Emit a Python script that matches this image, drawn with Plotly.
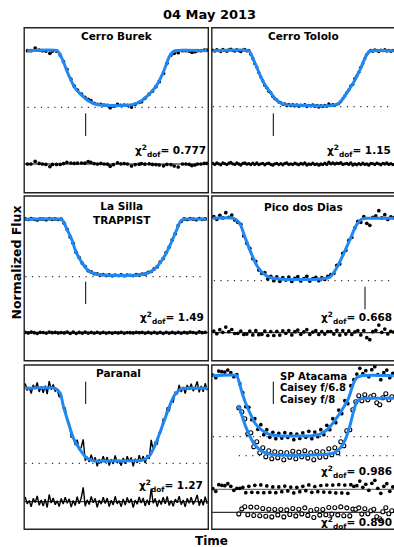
import plotly.graph_objects as go

# Figure fills the whole window; the page's default body margin is removed after plotting.
W, H = 394, 547
PAGE_OFF = 0

# ---------------- DATA (time in minutes from panel start, flux in ppt relative to baseline)
# Cerro Burek
burek_t = [3.3, 6.7, 11, 15, 18.3, 21.7, 25.7, 28.3, 32.3, 36,
           39.3, 42.7, 46.7, 50, 53.3, 57.3, 60.7, 64, 66.7, 70,
           73.3, 76.7, 80, 83.3, 86, 89.3, 93.3, 96.7, 100, 103.3,
           107.3, 111, 115, 117.3, 120.7, 125, 128.3, 131.7, 135, 139.3,
           142.7, 146.7, 150, 154, 158.3, 161.7, 165, 167.7, 170.7, 173.3,
           176.7, 180, 182.7]
burek_f = [0, 0, 1.3, 0.3, 0, -0.2, -1.3, -0.2, -0.2, -2.2,
           -5.5, -9.3, -14.2, -17.7, -19.7, -21.7, -23.3, -24.3, -25, -26.3,
           -26.8, -26.8, -27.2, -27.3, -28.5, -27.7, -26.8, -27.3, -27.2, -27.3,
           -28.2, -26.8, -25.8, -25.5, -23.8, -21.7, -20.2, -18, -15.5, -11.3,
           -6.3, -2.2, -1.3, -1, 0, 0, -0.2, -0.8, -0.5, 0,
           0, 0.3, 0.3]
burek_r = [0, 0, 1.3, 0.3, 0, -0.2, -1.3, -0.2, -0.2, -0.2,
           0.2, 0.8, 0.5, 0.3, 0.4, 0.5, 0.4, 1.2, 0.8, 0.2,
           0, 0.3, 0, -0.1, -1.1, -0.3, 0.6, 0.1, 0.2, 0,
           -1, -0.3, -0.1, 0.2, -0.1, 0.1, -0.2, -0.3, -0.5, -0.9,
           -0.2, -0.3, -1.0, -1.5, 0, 0, -0.2, -0.8, -0.5, 0,
           0, 0.3, 0.3]
burek_mt = [3, 33, 36, 40, 43, 47, 50, 54, 58, 62, 66, 70, 76, 85, 100, 106, 110, 115,
            120, 125, 130, 134, 138, 142, 145, 148, 151, 183]
burek_mf = [0, 0, -2, -6.5, -10.5, -15, -18, -20.5, -22.5, -24.3, -25.6, -26.5, -27.1, -27.4,
            -27.4, -27.2, -26.7, -25.7, -24, -21.8, -19, -16, -12, -7, -3, -0.8, 0, 0]

# Cerro Tololo
tololo_t = [1, 3, 5, 7, 9, 11, 13, 15, 17, 19,
            21, 23, 25, 27, 29, 31, 33, 35, 37, 39,
            41, 43, 45, 47, 49, 51, 53, 55, 57, 59,
            61, 63, 65, 67, 69, 71, 73, 75, 77, 79,
            81, 83, 85, 87, 89, 91, 93, 95, 97, 99,
            101, 103, 105, 107, 109, 111, 113, 115, 117, 119,
            121, 123, 125, 127, 129, 131, 133, 135, 137, 139,
            141, 143, 145, 147, 149, 151, 153, 155, 157, 159,
            161, 163, 165, 167, 169, 171, 173, 175, 177, 179,
            181]
tololo_f = [0.3, -0.2, 0.5, 0.1, -0.4, 0.6, 0.2, -0.3, 0.4, 0.8,
            0.1, -0.2, 0.5, 0.0, -0.5, 0.3, 0.6, -0.1, 0.2, -1.8,
            -3.9, -6.5, -8.1, -11.0, -13.2, -15.0, -17.4, -18.6, -20.3, -21.0,
            -22.9, -24.0, -24.6, -25.7, -26.0, -26.8, -26.6, -27.4, -26.9, -27.5,
            -27.0, -27.6, -27.1, -27.8, -27.2, -27.5, -27.0, -27.9, -27.3, -27.6,
            -27.1, -27.8, -27.4, -28.2, -27.5, -27.9, -27.3, -27.8, -26.6, -27.4,
            -27.0, -27.3, -26.8, -26.4, -25.4, -24.0, -22.6, -21.0, -19.6, -17.6,
            -16.8, -14.0, -12.6, -10.8, -8.3, -6.4, -4.0, -1.8, -0.6, 0.2,
            -0.3, 0.4, 0.1, -0.4, 0.3, 0.0, 0.5, -0.2, 0.2, -0.3,
            0.1]
tololo_r = [0.3, -0.2, 0.5, 0.1, -0.4, 0.6, 0.2, -0.3, 0.4, 0.8,
            0.1, -0.2, 0.5, 0.0, -0.5, 0.3, 0.6, -0.1, 0.2, -0.3,
            0.4, -0.2, 0.5, -0.3, 0.1, 0.3, -0.4, 0.2, 0.4, -0.2,
            -0.6, 0.1, 0.3, -0.3, 0.2, -0.4, 0.3, 0.5, -0.2, 0.1,
            -0.3, 0.4, 0.0, -0.4, 0.3, -0.1, 0.5, -0.5, 0.0, -0.2,
            0.4, -0.3, 0.1, -0.6, 0.0, -0.3, 0.4, -0.2, 0.9, 0.1,
            0.5, 0.0, 0.4, 0.2, 0.7, -0.2, 0.1, 0.3, -0.2, 0.6,
            -0.5, 0.0, -0.4, 0.2, -0.3, 0.4, -0.2, 0.1, -0.6, 0.3,
            0.2, -0.3, 0.4, 0.1, -0.4, 0.3, 0.0, 0.5, -0.2, 0.2,
            -0.3]
tololo_mt = [1, 37, 39, 44.7, 51.3, 58, 64.7, 71.3, 80, 100,
             115, 124.7, 128, 134.7, 141.3, 148, 154.7, 158, 162, 182]
tololo_mf = [0, 0, -1.5, -8, -15.5, -20.5, -24.7, -26.7, -27.2, -27.5,
             -27.6, -27, -26, -21.3, -16.3, -9.7, -2.2, -0.3, 0, 0]

# La Silla TRAPPIST
lasilla_t = [1, 4, 7, 10, 13, 16, 19, 22, 25, 28,
             31, 34, 37, 40, 43, 46, 49, 52, 55, 58,
             61, 64, 67, 70, 73, 76, 79, 82, 85, 88,
             91, 94, 97, 100, 103, 106, 109, 112, 115, 118,
             121, 124, 127, 130, 133, 136, 139, 142, 145, 148,
             151, 154, 157, 160, 163, 166, 169, 172, 175, 178,
             181]
lasilla_f = [0.2, -0.1, 0.3, 0.0, -0.3, 0.2, 0.1, -0.2, 0.3, 0.0,
             0.2, -0.1, 0.1, -2.0, -5.1, -8.8, -12.0, -16.6, -19.1, -21.9,
             -23.6, -25.7, -26.3, -27.2, -27.3, -27.9, -27.6, -28.1, -27.8, -28.2,
             -27.9, -28.1, -27.8, -28.2, -27.9, -28.0, -28.1, -27.7, -27.9, -27.4,
             -27.4, -26.5, -26.1, -24.8, -23.7, -21.4, -19.6, -16.6, -13.9, -10.3,
             -7.2, -3.1, -1.0, 0.2, -0.1, 0.3, 0.1, -0.2, 0.4, 0.0,
             0.2]
lasilla_r = [0.2, -0.1, 0.3, 0.0, -0.3, 0.2, 0.1, -0.2, 0.3, 0.0,
             0.2, -0.1, 0.1, -0.1, 0.3, -0.3, 0.3, -0.3, 0.2, -0.2,
             0.3, -0.2, 0.2, -0.2, 0.2, -0.2, 0.2, -0.2, 0.1, -0.2,
             0.1, -0.1, 0.2, -0.2, 0.1, 0.0, -0.1, 0.2, 0.0, 0.2,
             -0.2, 0.2, -0.2, 0.2, -0.2, 0.2, -0.3, 0.2, -0.2, 0.2,
             -0.2, 0.2, -0.2, 0.2, -0.1, 0.3, 0.1, -0.2, 0.4, 0.0,
             0.2]
lasilla_mt = [1, 37, 39.3, 42.7, 47.7, 51, 54.3, 59.3, 63.3, 67.7,
              74, 85, 110, 118, 122.7, 129.3, 134.3, 141, 146.7, 152.7,
              156, 159, 182]
lasilla_mf = [0, 0, -1.2, -5, -10.3, -15.3, -18.7, -22.8, -25.3, -26.7,
              -27.6, -28, -28, -27.6, -27, -25.3, -22.8, -17.8, -12, -5,
              -1.2, 0, 0]

# Pico dos Dias
pico_t = [2, 5, 8, 11, 14, 17, 20, 23, 26, 29,
          32, 35, 38, 41, 44, 47, 50, 53, 56, 59,
          62, 65, 68, 71, 74, 77, 80, 83, 86, 89,
          92, 95, 98, 101, 104, 107, 110, 113, 116, 119,
          122, 125, 128, 131, 134, 137, 140, 143, 146, 149,
          152, 155, 158, 161, 164, 167, 170, 173, 176, 179,
          182]
pico_f = [0.8, -0.5, 1.5, 0.2, 2.8, 0.5, 1.6, -0.8, -2.0, -3.0,
          -8.8, -12.5, -15.0, -20.2, -21.5, -25.8, -27.5, -27.2, -30.3, -29.0,
          -31.2, -29.3, -31.5, -29.6, -30.8, -29.4, -31.6, -30.0, -29.2, -31.3,
          -30.1, -29.0, -31.4, -30.2, -29.5, -31.2, -29.6, -30.6, -29.0, -28.2,
          -27.5, -23.5, -22.8, -17.5, -16.0, -11.0, -9.5, -4.8, -1.5, -2.0,
          0.8, -2.5, -3.5, 0.5, 1.2, 3.8, 0.2, 1.8, -0.6, 0.7,
          0.3]
pico_r = [0.8, -0.5, 1.5, 0.2, 2.8, 0.5, 1.6, -0.4, -0.3, 0.8,
          -0.9, -0.7, 0.8, -1.1, 1.0, -1.0, -0.8, 0.8, -1.4, 0.6,
          -1.4, 0.7, -1.2, 0.9, -0.3, 1.1, -1.1, 0.5, 1.3, -0.8,
          0.4, 1.5, -0.9, 0.3, 1.0, -0.9, 0.5, -0.7, 0.6, 0.6,
          -0.7, 1.2, -1.2, 1.1, -0.7, 0.9, -0.9, 0.4, 1.1, -1.1,
          1.1, -2.5, -3.5, 0.5, 1.2, 3.8, 0.2, 1.8, -0.6, 0.7,
          0.3]
pico_mt = [1, 22, 28, 33, 38, 44.7, 51.3, 58, 71.3, 104.7,
           118, 124.7, 131.3, 138, 144.7, 149.7, 154.7, 182]
pico_mf = [0, 0, -2.5, -9.2, -15.8, -23.3, -27.5, -29.5, -30.5, -30.5,
           -29.5, -25, -18.3, -10.8, -3.3, -0.5, 0, 0]

# Paranal
paranal_t = [1, 3, 5, 7, 9, 11, 13, 15, 17, 19,
             21, 23, 25, 27, 29, 31, 33, 35, 37, 39,
             41, 43, 45, 47, 49, 51, 53, 55, 57, 59,
             61, 63, 65, 67, 69, 71, 73, 75, 77, 79,
             81, 83, 85, 87, 89, 91, 93, 95, 97, 99,
             101, 103, 105, 107, 109, 111, 113, 115, 117, 119,
             121, 123, 125, 127, 129, 131, 133, 135, 137, 139,
             141, 143, 145, 147, 149, 151, 153, 155, 157, 159,
             161, 163, 165, 167, 169, 171, 173, 175, 177, 179,
             181, 183]
paranal_f = [2.4, -1.1, 0.6, -2.6, 1.7, -0.4, 2.9, -1.8, 0.9, -2.2,
             1.3, -2.9, 3.6, -0.7, 1.9, -1.5, -0.6, -4.4, -2.9, -9.8,
             -9.8, -16.1, -17.2, -24.3, -23.9, -28.4, -25.7, -30.9, -29.6, -25.5,
             -36.2, -34.2, -36.8, -33.2, -36.6, -34.5, -39.0, -35.4, -37.4, -33.9,
             -37.1, -34.4, -38.6, -35.5, -37.8, -33.5, -37.4, -35.8, -38.7, -34.8,
             -37.8, -34.0, -36.7, -34.6, -39.0, -35.2, -37.3, -33.5, -36.6, -33.9,
             -37.4, -33.4, -35.3, -25.8, -31.1, -26.7, -28.2, -22.1, -21.7, -15.4,
             -15.8, -9.5, -11.5, -6.5, -6.9, -2.0, -2.7, 1.7, -1.9, 0.7,
             -2.6, 1.7, -0.8, 2.3, -1.4, 0.5, 3.4, -2.0, 1.2, -1.8,
             2.5, -1.0]
paranal_r = [2.4, -1.1, 0.6, -2.6, 1.7, -0.4, 2.9, -1.8, 0.9, -2.2,
             1.3, -2.9, 3.6, -0.7, 1.9, -1.5, 0.4, -2.4, 1.6, -1.2,
             2.2, -0.8, 1.4, -2.7, 0.6, -1.9, 2.5, -1.0, 1.8, 7.2,
             -2.3, 0.9, -1.4, 2.6, -0.5, 1.7, -2.8, 0.8, -1.2, 2.3,
             -0.9, 1.8, -2.4, 0.7, -1.6, 2.7, -1.1, 0.5, -2.5, 1.4,
             -1.7, 2.1, -0.6, 1.5, -2.9, 0.8, -1.3, 2.4, -0.7, 1.9,
             -2.2, 1.0, -1.6, 6.5, -0.8, 1.6, -2.5, 0.9, -1.4, 2.2,
             -1.0, 2.6, -1.9, 0.6, -2.3, 1.3, -0.5, 2.8, -1.5, 0.9,
             -2.6, 1.7, -0.8, 2.3, -1.4, 0.5, 3.4, -2.0, 1.2, -1.8,
             2.5, -1.0]
paranal_mt = [1, 31, 36, 39.3, 44.3, 49.3, 56, 62.7, 69.3, 92.7,
              119.3, 126, 131, 136, 142.7, 149.3, 156, 161, 183]
paranal_mf = [0, 0, -2.5, -9.2, -17.5, -25, -30.8, -35, -36.2, -36.3,
              -35.8, -33.3, -28.3, -21.7, -12.5, -4.2, -0.5, 0, 0]

# SP Atacama, Caisey f/6.8 (A) and Caisey f/8 (B, shifted down)
ata_a_t = [1, 4, 7, 10, 13, 16, 19, 22, 25, 28,
           31, 34, 37, 40, 43, 46, 49, 52, 55, 58,
           61, 64, 67, 70, 73, 76, 79, 82, 85, 88,
           91, 94, 97, 100, 103, 106, 109, 112, 115, 118,
           121, 124, 127, 130, 133, 136, 139, 142, 145, 148,
           151, 154, 157, 160, 163, 166, 169, 172, 175, 178,
           181]
ata_a_f = [0.3, -1.0, 2.3, 2.0, 1.8, 2.8, 1.5, -0.5, 0.5, -4.0,
           -8.5, -15.5, -15.8, -22.0, -21.5, -26.8, -24.5, -29.5, -27.0, -30.8,
           -28.3, -31.5, -28.8, -31.2, -28.5, -30.9, -29.0, -32.0, -29.2, -31.4,
           -28.6, -30.8, -27.8, -31.5, -28.2, -30.5, -27.0, -29.5, -24.8, -27.0,
           -21.5, -23.5, -17.2, -19.0, -12.5, -14.0, -5.0, -2.0, 0.8, 3.7,
           1.0, 2.5, -0.5, 3.0, 4.5, 0.5, -2.0, 1.5, 2.8, -1.0,
           1.2]
ata_a_r = [0.3, -1.0, 2.3, 2.0, 1.8, 2.8, 1.5, -0.5, 0.5, 0.5,
           1.0, -1.7, 1.5, -1.5, 2.0, -1.6, 2.2, -1.7, 1.7, -1.5,
           1.2, -1.7, 1.2, -1.2, 1.6, -0.8, 1.1, -1.8, 1.0, -1.2,
           1.5, -0.7, 2.2, -1.5, 1.4, -1.2, 1.9, -1.4, 2.1, -1.5,
           2.1, -1.8, 2.3, -1.8, 2.1, -2.0, 2.3, 1.5, 1.8, 4.1,
           1.0, 2.5, -0.5, 3.0, 4.5, 0.5, -2.0, 1.5, 2.8, -1.0,
           1.2]
ata_a_mt = [1, 25, 26.7, 30, 33.3, 38.3, 43.3, 50, 56.7, 66.7,
            86.7, 100, 110, 116.7, 123.3, 130, 136.7, 141.7, 145, 150,
            182]
ata_a_mf = [0, 0, -2.2, -8, -13, -18.8, -23.8, -27.2, -29.2, -30,
            -30.2, -30, -28.8, -26.3, -22.2, -17.2, -11.3, -3.8, -1, 0,
            0]
ata_b_t = [27, 30, 33, 36, 39, 42, 45, 48, 51, 54,
           57, 60, 63, 66, 69, 72, 75, 78, 81, 84,
           87, 90, 93, 96, 99, 102, 105, 108, 111, 114,
           117, 120, 123, 126, 129, 132, 135, 138, 141, 144,
           147, 150, 153, 156, 159, 162, 165, 168, 171, 174,
           177, 180]
ata_b_f = [-16.0, -18.0, -21.5, -29.0, -28.5, -35.5, -33.0, -38.5, -36.0, -40.5,
           -37.5, -41.5, -38.0, -41.0, -38.3, -42.0, -38.5, -40.8, -37.8, -41.5,
           -38.2, -40.5, -37.5, -41.2, -38.5, -42.0, -37.9, -40.8, -38.0, -40.5,
           -36.5, -39.5, -36.0, -38.5, -33.0, -35.0, -27.5, -27.0, -17.0, -13.0,
           -10.0, -12.5, -9.5, -12.0, -10.5, -9.8, -13.5, -14.5, -11.0, -9.0,
           -12.0, -10.5]
ata_b_r = [-0.8, 1.7, 2.8, -1.2, 2.6, -1.6, 2.5, -1.7, 1.9, -2.0,
           1.5, -2.3, 1.4, -1.3, 1.4, -2.3, 1.2, -1.1, 1.9, -1.8,
           1.5, -0.8, 2.2, -1.55, 0.9, -2.6, 1.5, -1.4, 1.4, -1.25,
           2.4, -0.9, 2.3, -1.3, 2.7, -1.7, 2.2, -1.8, 1.6, 1.5,
           2.2, -0.9, 1.8, -0.7, 0.8, 1.5, -2.2, -3.2, 0.3, 2.3,
           -0.7, 0.8]
ata_b_mt = [26.7, 30, 33.3, 38.3, 43.3, 50, 56.7, 66.7, 93.3, 113.3,
            123.3, 128.3, 133.3, 138.3, 141.7, 145, 148.3, 153.3, 182]
ata_b_mf = [-14.7, -19.7, -24.7, -30.5, -34.7, -37.7, -39, -39.7, -39.7, -39.3,
            -38.3, -36.3, -32.2, -24.7, -18, -13, -11.7, -11.3, -11.3]

chi2_values = ["0.777", "1.15", "1.49", "0.668", "1.27", "0.986", "0.890"]
site_names = ["Cerro Burek", "Cerro Tololo", "La Silla<br>TRAPPIST", "Pico dos Dias", "Paranal"]

# ---------------- LAYOUT / STYLE
BLUE = "#1e88f5"
FONT = "DejaVu Sans"
PPT_PER_PX = 0.5

def fl(v):
    return [1 + x / 1000.0 for x in v]

def off(v, o):
    return [x + o for x in v]

def PX(x):   # window pixel -> paper x
    return (x - PAGE_OFF) / W

def PY(y):   # window pixel -> paper y
    return 1 - (y - PAGE_OFF) / H

LEFT = (PX(24.2), PX(208.3))
RIGHT = (PX(211.8), 1.0)
ROW1 = (PY(192.7), PY(27.7))
ROW2 = (PY(360.7), PY(196))
ROW3 = (PY(529.3), PY(365))

panels = [
    dict(xd=LEFT, yd=ROW1, top=11.5, t=burek_t, f=burek_f, r=burek_r, mt=burek_mt, mf=burek_mf,
         dot=-28.3, res=-56.65, bar=(61.5, -31.3, -42.65)),
    dict(xd=RIGHT, yd=ROW1, top=11.5, t=tololo_t, f=tololo_f, r=tololo_r, mt=tololo_mt, mf=tololo_mf,
         dot=-28.0, res=-56.65, bar=(61.5, -31.3, -42.65), msize=3.3),
    dict(xd=LEFT, yd=ROW2, top=11.65, t=lasilla_t, f=lasilla_f, r=lasilla_r, mt=lasilla_mt, mf=lasilla_mf,
         dot=-28.7, res=-56.7, bar=(61.5, -31.2, -42.35)),
    dict(xd=RIGHT, yd=ROW2, top=11.15, t=pico_t, f=pico_f, r=pico_r, mt=pico_mt, mf=pico_mf,
         dot=-31.2, res=-57.2, bar=(153.2, -34.2, -45.5)),
    dict(xd=LEFT, yd=ROW3, top=11.65, t=paranal_t, f=paranal_f, r=paranal_r, mt=paranal_mt, mf=paranal_mf,
         dot=-37.5, res=-56.7, bar=(61.5, 3.3, -7.85), lines=True),
    dict(xd=RIGHT, yd=ROW3, top=5.35, t=ata_a_t, f=ata_a_f, r=ata_a_r, mt=ata_a_mt, mf=ata_a_mf,
         dot=-30.5, res=-56.8, bar=(61.5, -3.0, -14.15)),
]

fig = go.Figure()
layout = dict(width=W, height=H, margin=dict(l=0, r=0, t=0, b=0),
              paper_bgcolor="white", plot_bgcolor="white", showlegend=False)
shapes = []

def add(trace, n):
    trace.update(xaxis="x" + n, yaxis="y" + n, hoverinfo="skip")
    fig.add_trace(trace)

for i, p in enumerate(panels):
    n = "" if i == 0 else str(i + 1)
    xd, yd = p["xd"], p["yd"]
    wpx = (xd[1] - xd[0]) * W
    hpx = (yd[1] - yd[0]) * H
    layout["xaxis" + n] = dict(domain=list(xd), range=[0, wpx], visible=False,
                               anchor="y" + n, fixedrange=True)
    layout["yaxis" + n] = dict(domain=list(yd), range=fl([p["top"] - hpx * PPT_PER_PX, p["top"]]),
                               visible=False, anchor="x" + n, fixedrange=True)
    x1 = xd[1] if xd[1] < 1 else 1.01
    shapes.append(dict(type="rect", xref="paper", yref="paper", x0=xd[0], x1=x1,
                       y0=yd[0], y1=yd[1], line=dict(color="#222222", width=1.4)))
    t = p["t"]
    add(go.Scatter(x=[t[0], t[-1]], y=fl([p["dot"], p["dot"]]), mode="lines",
                   line=dict(color="#333333", width=1.2, dash="1.2px,5.5px")), n)
    add(go.Scatter(x=[0, wpx], y=fl([p["res"], p["res"]]), mode="lines",
                   line=dict(color="#555555" if i == 5 else "black", width=1)), n)
    ms = p.get("msize", 3.7)
    if p.get("lines"):
        add(go.Scatter(x=t, y=fl(p["f"]), mode="lines", line=dict(color="black", width=1.4)), n)
        add(go.Scatter(x=t, y=fl(off(p["r"], p["res"])), mode="lines",
                       line=dict(color="black", width=1.4)), n)
    else:
        add(go.Scatter(x=t, y=fl(p["f"]), mode="markers",
                       marker=dict(size=ms, color="black")), n)
        add(go.Scatter(x=t, y=fl(off(p["r"], p["res"])), mode="markers",
                       marker=dict(size=ms, color="black")), n)
    add(go.Scatter(x=p["mt"], y=fl(p["mf"]), mode="lines",
                   line=dict(color=BLUE, width=3, shape="spline", smoothing=0.6)), n)
    bx, b0, b1 = p["bar"]
    add(go.Scatter(x=[bx, bx], y=fl([b0, b1]), mode="lines",
                   line=dict(color="black", width=1)), n)

# second Atacama light curve (Caisey f/8)
n6 = "6"
add(go.Scatter(x=[ata_b_t[0], 182], y=fl([-40.0, -40.0]), mode="lines",
               line=dict(color="#333333", width=1.2, dash="1.2px,5.5px")), n6)
add(go.Scatter(x=[0, 182.2], y=fl([-68.3, -68.3]), mode="lines",
               line=dict(color="black", width=1)), n6)
add(go.Scatter(x=ata_b_t, y=fl(ata_b_f), mode="markers",
               marker=dict(size=4.0, color="white", line=dict(color="black", width=1.1))), n6)
add(go.Scatter(x=ata_b_t, y=fl(off(ata_b_r, -68.3)), mode="markers",
               marker=dict(size=4.0, color="white", line=dict(color="black", width=1.1))), n6)
add(go.Scatter(x=ata_b_mt, y=fl(ata_b_mf), mode="lines",
               line=dict(color=BLUE, width=3, shape="spline", smoothing=0.6)), n6)

layout["shapes"] = shapes

# ---------------- TEXT (positions in window pixels)
ann = []
def text(s, x, y, size, xa="center", ya="middle", angle=0):
    ann.append(dict(text=s, x=PX(x), y=PY(y), xref="paper", yref="paper",
                    xanchor=xa, yanchor=ya, showarrow=False, textangle=angle,
                    font=dict(family=FONT, size=size, color="black")))

text("<b>04 May 2013</b>", 209.5, 15, 13)
text("<b>Normalized Flux</b>", 16.5, 263, 12.5, angle=-90)
text("<b>Time</b>", 211, 541, 12)

text("<b>" + site_names[0] + "</b>", 117, 36, 10.5)
text("<b>" + site_names[1] + "</b>", 303, 36, 10.5)
text("<b>" + site_names[2] + "</b>", 122, 213.5, 10.5)
text("<b>" + site_names[3] + "</b>", 303, 207, 10.5)
text("<b>" + site_names[4] + "</b>", 118, 373, 10.5)

text("<b>SP Atacama</b>", 278, 376, 10, xa="left")
text("<b>Caisey f/6.8</b>", 278, 387.5, 10, xa="left")
text("<b>Caisey f/8</b>", 278, 399.5, 10, xa="left")

def chi(val, x, y):
    text("<b>χ<sup>2</sup><sub>dof</sub>= " + val + "</b>", x, y, 10.5, xa="right")

chi(chi2_values[0], 208, 151)
chi(chi2_values[1], 393, 151)
chi(chi2_values[2], 206, 318)
chi(chi2_values[3], 394, 318)
chi(chi2_values[4], 205, 486)
chi(chi2_values[5], 394, 472)
chi(chi2_values[6], 394, 523)

layout["annotations"] = ann
fig.update_layout(**layout)
fig.write_html(
    "out.html",
    config={"displayModeBar": False, "staticPlot": True},
    post_script="document.body.style.margin='0px';"
                "document.documentElement.style.overflow='hidden';"
                "document.body.style.overflow='hidden';",
)
